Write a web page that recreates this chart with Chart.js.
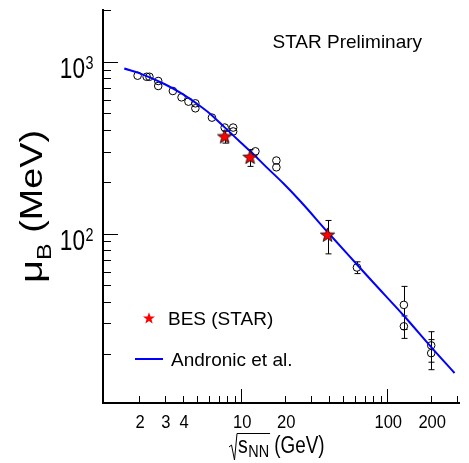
<!DOCTYPE html>
<html>
<head>
<meta charset="utf-8">
<script src="https://cdn.jsdelivr.net/npm/chart.js@4.4.0/dist/chart.umd.min.js"></script>
<style>
  html, body { margin: 0; padding: 0; background: #fff; }
  canvas { display: block; }
</style>
</head>
<body>
<canvas id="chart" width="469" height="463"></canvas>
<script>
// Andronic et al. curve, mu_B (MeV) vs sqrt(s_NN) (GeV)
const curveSqrtS = [1.58, 2, 3, 4, 5, 6, 7.7, 10, 11.5, 15, 19.4, 25.6, 39, 62, 80, 130, 200, 289]
const curveMuB = [914, 859, 740, 646, 568, 505, 415, 337, 302, 242, 196, 153, 102, 66, 52, 33.2, 21.8, 15.4]

// open circles: statistical model fits of earlier data
const fitSqrtS = [1.95, 2.25, 2.35, 2.7, 2.7, 3.4, 3.9, 4.35, 4.85, 4.85, 6.3, 7.7, 8.8, 8.8, 12.5, 17.4, 17.4, 62, 130, 130, 200, 200]
const fitMuB = [830, 818, 818, 773, 723, 676, 621, 586, 573, 536, 473, 414, 414, 393, 301, 266, 243, 63.4, 38.4, 28.8, 22.3, 20.1]
const fitErr = [0, 0, 0, 0, 0, 0, 0, 0, 0, 0, 0, 0, 0, 0, 0, 0, 0, 5, 10.8, 4.3, 4.5, 4]

// BES (STAR)
const besSqrtS = [7.7, 11.5, 39]
const besMuB = [365, 277, 97.6]
const besErr = [29, 31, 21.5]

const xTickLabels = [2, 3, 4, 10, 20, 100, 200]
const yTickLabels = [100, 1000]

const FONT = '"Liberation Sans", Arial, Helvetica, sans-serif'

const starPath = (ctx, cx, cy, r) => {
  ctx.beginPath()
  for (let i = 0; i < 10; i++) {
    const rad = i % 2 === 0 ? r : r * 0.42
    const a = -Math.PI / 2 + i * Math.PI / 5
    ctx.lineTo(cx + rad * Math.cos(a), cy + rad * Math.sin(a))
  }
  ctx.closePath()
}

const makeStar = (r) => {
  const c = document.createElement('canvas')
  c.width = c.height = Math.ceil(2 * r + 4)
  const ctx = c.getContext('2d')
  starPath(ctx, c.width / 2, c.height / 2, r)
  ctx.fillStyle = '#ff0000'
  ctx.fill()
  ctx.strokeStyle = '#000'
  ctx.lineWidth = 0.8
  ctx.stroke()
  return c
}
const starImg = makeStar(7.5)

const toPoints = (xs, ys) => xs.map((v, i) => ({ x: v, y: ys[i] }))

// text squeezed or stretched along its run
const scaledText = (ctx, text, x, y, sx, align) => {
  ctx.save()
  ctx.translate(x, y)
  ctx.scale(sx, 1)
  ctx.textAlign = align || 'left'
  ctx.fillText(text, 0, 0)
  ctx.restore()
  return ctx.measureText(text).width * sx
}

// vertical error bars with small caps, skipping the marker itself
const errorBars = {
  id: 'errorBars',
  beforeDatasetsDraw(chart) {
    const { ctx, scales: { x, y } } = chart
    ctx.save()
    ctx.strokeStyle = '#000'
    ctx.lineWidth = 1
    chart.data.datasets.forEach((ds) => {
      if (!ds.errors) return
      const gap = ds.errorGap || 0
      ds.data.forEach((p, i) => {
        const e = ds.errors[i]
        if (!e) return
        const px = Math.round(x.getPixelForValue(p.x)) + 0.5
        const py = y.getPixelForValue(p.y)
        const top = y.getPixelForValue(p.y + e)
        const bot = y.getPixelForValue(p.y - e)
        ctx.beginPath()
        if (top < py - gap) {
          ctx.moveTo(px, py - gap); ctx.lineTo(px, top)
          ctx.moveTo(px - 3, top); ctx.lineTo(px + 3, top)
        }
        if (bot > py + gap) {
          ctx.moveTo(px, py + gap); ctx.lineTo(px, bot)
          ctx.moveTo(px - 3, bot); ctx.lineTo(px + 3, bot)
        }
        ctx.stroke()
      })
    })
    ctx.restore()
  }
}

// axes drawn ROOT style: ticks pointing into the frame
const frame = {
  id: 'frame',
  afterDraw(chart) {
    const { ctx, chartArea: a, scales: { x, y } } = chart
    ctx.save()
    ctx.strokeStyle = '#000'
    ctx.fillStyle = '#000'

    ctx.lineWidth = 1
    ctx.beginPath()
    for (let d = 1; d <= 100; d *= 10) {
      for (let m = 1; m <= 9; m++) {
        const v = m * d
        if (v <= x.min || v > x.max) continue
        const px = Math.round(x.getPixelForValue(v)) + 0.5
        ctx.moveTo(px, a.bottom)
        ctx.lineTo(px, a.bottom - (m === 1 ? 14 : 7))
      }
    }
    for (let d = 10; d <= 1000; d *= 10) {
      for (let m = 1; m <= 9; m++) {
        const v = m * d
        if (v <= y.min || v > y.max) continue
        const py = Math.round(y.getPixelForValue(v)) + 0.5
        ctx.moveTo(a.left, py)
        ctx.lineTo(a.left + (m === 1 ? 15 : 8), py)
      }
    }
    ctx.stroke()

    ctx.lineWidth = 2
    ctx.beginPath()
    ctx.moveTo(a.left, a.top)
    ctx.lineTo(a.left, a.bottom)
    ctx.lineTo(a.right, a.bottom)
    ctx.stroke()

    // x tick labels
    ctx.font = '18px ' + FONT
    ctx.textBaseline = 'alphabetic'
    xTickLabels.forEach((v) => {
      scaledText(ctx, String(v), x.getPixelForValue(v) + 1, a.bottom + 24.5, 0.92, 'center')
    })

    // y tick labels 10^n
    yTickLabels.forEach((v) => {
      const py = y.getPixelForValue(v)
      ctx.font = '29px ' + FONT
      scaledText(ctx, '10', 85, py + 16.5, 0.78, 'right')
      ctx.font = '18px ' + FONT
      scaledText(ctx, String(Math.round(Math.log10(v))), 85.5, py + 7, 0.8)
    })

    // y title: mu_B (MeV)
    ctx.save()
    ctx.translate(42, 283)
    ctx.rotate(-Math.PI / 2)
    ctx.font = '32px ' + FONT
    let w = scaledText(ctx, '\u03bc', 0, 0, 1.25)
    ctx.font = '20px ' + FONT
    w += scaledText(ctx, 'B', w, 9, 1.25)
    ctx.font = '32px ' + FONT
    scaledText(ctx, ' (MeV)', w, 0, 1.18)
    ctx.restore()

    // x title: sqrt(s_NN) (GeV)
    let tx = 238
    const base = 453
    ctx.font = '23px ' + FONT
    tx += scaledText(ctx, 's', tx, base, 0.85)
    ctx.font = '16px ' + FONT
    tx += scaledText(ctx, 'NN', tx + 0.5, base + 4, 0.9) + 0.5
    const barEnd = tx + 1
    ctx.font = '23px ' + FONT
    scaledText(ctx, ' (GeV)', tx, base, 0.82)
    ctx.lineWidth = 1
    ctx.beginPath()
    ctx.moveTo(229, 447)
    ctx.lineTo(231.5, 445)
    ctx.lineTo(234.5, 460)
    ctx.lineTo(237, 433.5)
    ctx.lineTo(barEnd, 433.5)
    ctx.stroke()

    // annotation
    ctx.font = '19px ' + FONT
    ctx.textAlign = 'left'
    ctx.fillText('STAR Preliminary', 272.5, 48)

    // legend
    ctx.save()
    starPath(ctx, 149, 318.5, 6.2)
    ctx.fillStyle = '#ff0000'
    ctx.fill()
    ctx.restore()
    ctx.textBaseline = 'middle'
    ctx.fillText('BES (STAR)', 168, 320)
    ctx.strokeStyle = '#0000ff'
    ctx.lineWidth = 2
    ctx.beginPath()
    ctx.moveTo(135, 359)
    ctx.lineTo(163, 359)
    ctx.stroke()
    ctx.fillText('Andronic et al.', 171, 361)

    ctx.restore()
  }
}

new Chart(document.querySelector('#chart'), {
  type: 'scatter',
  data: {
    datasets: [
      {
        label: 'BES (STAR)',
        data: toPoints(besSqrtS, besMuB),
        errors: besErr,
        pointStyle: starImg,
        pointRadius: 8,
        showLine: false
      },
      {
        label: 'Andronic et al.',
        data: toPoints(curveSqrtS, curveMuB),
        showLine: true,
        borderColor: '#0000ff',
        borderWidth: 2,
        pointRadius: 0,
        cubicInterpolationMode: 'monotone',
        fill: false
      },
      {
        label: 'fits',
        data: toPoints(fitSqrtS, fitMuB),
        errors: fitErr,
        errorGap: 3.8,
        showLine: false,
        pointStyle: 'circle',
        pointRadius: 3.8,
        pointBorderWidth: 1,
        pointBorderColor: '#000',
        pointBackgroundColor: 'rgba(0,0,0,0)'
      }
    ]
  },
  options: {
    responsive: false,
    animation: false,
    events: [],
    layout: { padding: { top: 7, right: 2, left: 0, bottom: 0 } },
    plugins: { legend: { display: false }, tooltip: { enabled: false } },
    scales: {
      x: {
        type: 'logarithmic',
        min: 1.13,
        max: 315,
        grid: { display: false },
        border: { display: false },
        ticks: { display: false },
        afterFit: (s) => { s.height = 60 }
      },
      y: {
        type: 'logarithmic',
        min: 10.3,
        max: 2030,
        grid: { display: false },
        border: { display: false },
        ticks: { display: false },
        afterFit: (s) => { s.width = 103 }
      }
    }
  },
  plugins: [errorBars, frame]
})
</script>
</body>
</html>
